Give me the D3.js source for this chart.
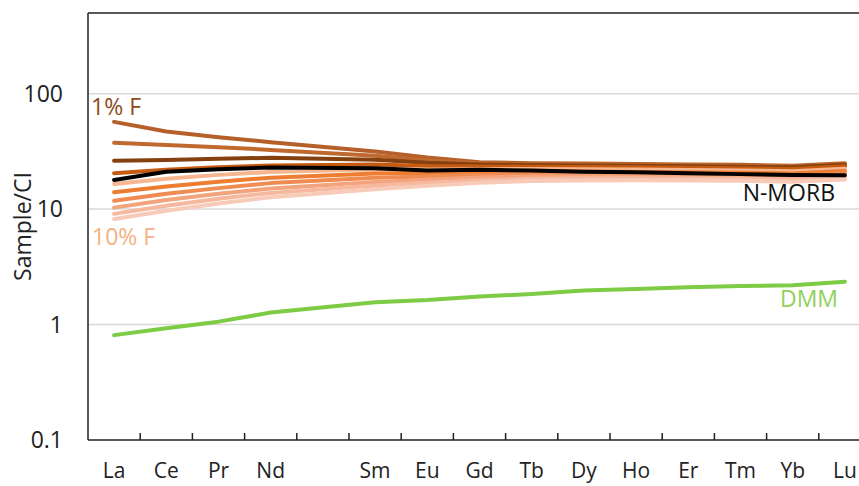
<!DOCTYPE html>
<html>
<head>
<meta charset="utf-8">
<script src="https://cdn.jsdelivr.net/npm/d3@7"></script>
<style>
  body { margin: 0; background: #fff; }
  svg { display: block; font-family: "Open Sans", sans-serif; }
</style>
</head>
<body>
<div id="chart"></div>
<script>
// REE names along the x axis (Pm has no value)
const elements = ["La", "Ce", "Pr", "Nd", "Pm", "Sm", "Eu", "Gd", "Tb", "Dy", "Ho", "Er", "Tm", "Yb", "Lu"];
const tickLabels = ["La", "Ce", "Pr", "Nd", "", "Sm", "Eu", "Gd", "Tb", "Dy", "Ho", "Er", "Tm", "Yb", "Lu"];
const yTicks = [0.1, 1, 10, 100];

// melt curves, 1% F to 10% F (chondrite normalised)
const melt1 = [57, 47, 42, 38, null, 31.5, 28, 25.5, 25, 24.8, 24.6, 24.4, 24.2, 23.8, 25];
const melt2 = [37.6, 36, 34.4, 32.6, null, 29, 26.5, 25, 24.6, 24.4, 24.2, 24, 23.8, 23.4, 24.6];
const melt3 = [26.3, 26.7, 27.3, 27.8, null, 26.8, 25.2, 24.3, 24.1, 23.9, 23.7, 23.5, 23.3, 23, 24.2];
const melt4 = [20.5, 21.9, 23, 23.9, null, 24.4, 23.6, 23.4, 23.3, 23.2, 23, 22.8, 22.6, 22.3, 23.5];
const melt5 = [16.5, 18.3, 19.8, 21, null, 22.2, 22, 22.2, 22.3, 22.2, 22, 21.8, 21.6, 21.3, 22.4];
const melt6 = [14, 15.7, 17.3, 18.7, null, 20.4, 20.6, 21, 21.2, 21.2, 21, 20.9, 20.7, 20.4, 21.4];
const melt7 = [11.8, 13.6, 15.2, 16.8, null, 18.7, 19.2, 19.8, 20.2, 20.2, 20.1, 20, 19.8, 19.5, 20.5];
const melt8 = [10.3, 12, 13.6, 15.1, null, 17.2, 18, 18.8, 19.2, 19.3, 19.3, 19.2, 19, 18.7, 19.6];
const melt9 = [9.1, 10.7, 12.3, 13.8, null, 16, 16.9, 17.8, 18.3, 18.5, 18.5, 18.4, 18.3, 18, 18.8];
const melt10 = [8.2, 9.7, 11.2, 12.7, null, 14.9, 15.9, 16.9, 17.5, 17.7, 17.8, 17.7, 17.6, 17.3, 18.1];
const nMorb = [17.9, 21.1, 22.2, 22.9, null, 22.6, 21.6, 21.9, 21.6, 21.1, 20.9, 20.5, 20.1, 19.8, 19.7];
const dmm = [0.81, 0.93, 1.06, 1.27, null, 1.56, 1.63, 1.75, 1.84, 1.97, 2.03, 2.1, 2.16, 2.19, 2.35];

const meltSeries = [melt1, melt2, melt3, melt4, melt5, melt6, melt7, melt8, melt9, melt10];
const meltColors = ["#b5602a", "#c0692f", "#85400f", "#c55a11", "#f6b690", "#ed7d31", "#f08c52", "#f3a47c", "#f6b9a0", "#f8cbb9"];

const container = d3.select("#chart");
const containerWidth = 859;
const containerHeight = 486;

const margin = { top: 13, left: 88 };
const width = 783; // plot runs past the right edge of the picture
const height = 427;

const svg = container
  .append("svg")
  .attr("width", containerWidth)
  .attr("height", containerHeight);

const g = svg.append("g").attr("transform", `translate(${margin.left},${margin.top})`);

const x = d3.scaleBand().domain(elements).range([0, width]);
const y = d3.scaleLog().domain([0.1, 500]).range([height, 0]);
const cx = (e) => x(e) + x.bandwidth() / 2;

// gridlines
g.selectAll("line.grid")
  .data(yTicks.slice(1))
  .join("line")
  .attr("x1", 0)
  .attr("x2", width)
  .attr("y1", (d) => y(d))
  .attr("y2", (d) => y(d))
  .attr("stroke", "#d9d9d9")
  .attr("stroke-width", 1.5);

// y labels
g.selectAll("text.ylab")
  .data(yTicks)
  .join("text")
  .attr("x", -25)
  .attr("y", (d) => y(d))
  .attr("dy", "0.35em")
  .attr("text-anchor", "end")
  .attr("font-size", 23)
  .attr("fill", "#222")
  .text((d) => d3.format("~g")(d));

// x axis, ticks between categories pointing up
const xAxis = g.append("g").attr("transform", `translate(0,${height})`);
xAxis
  .append("line")
  .attr("x1", 0)
  .attr("x2", width)
  .attr("stroke", "#222")
  .attr("stroke-width", 1.5);
xAxis
  .selectAll("line.tick")
  .data(elements.slice(1))
  .join("line")
  .attr("x1", (d) => x(d))
  .attr("x2", (d) => x(d))
  .attr("y1", 0)
  .attr("y2", -7)
  .attr("stroke", "#222")
  .attr("stroke-width", 1.5);
xAxis
  .selectAll("text")
  .data(elements)
  .join("text")
  .attr("x", (d) => cx(d))
  .attr("y", 38)
  .attr("text-anchor", "middle")
  .attr("font-size", 21)
  .attr("fill", "#222")
  .text((d, i) => tickLabels[i]);

// frame: left and top
g.append("line").attr("x1", 0).attr("x2", 0).attr("y1", 0).attr("y2", height)
  .attr("stroke", "#222").attr("stroke-width", 1.5);
g.append("line").attr("x1", 0).attr("x2", width).attr("y1", 0).attr("y2", 0)
  .attr("stroke", "#222").attr("stroke-width", 1.5);

// y title
svg
  .append("text")
  .attr("transform", `translate(31,${margin.top + height / 2}) rotate(-90)`)
  .attr("text-anchor", "middle")
  .attr("font-size", 23)
  .attr("fill", "#222")
  .text("Sample/CI");

const line = d3
  .line()
  .x((d) => cx(d.el))
  .y((d) => y(d.v));

const toPoints = (vals) =>
  vals.map((v, i) => ({ el: elements[i], v })).filter((d) => d.v != null);

// melt curves
meltSeries.forEach((vals, i) => {
  g.append("path")
    .datum(toPoints(vals))
    .attr("d", line)
    .attr("fill", "none")
    .attr("stroke", meltColors[i])
    .attr("stroke-width", 4)
    .attr("stroke-linecap", "round")
    .attr("stroke-linejoin", "round");
});

// N-MORB
g.append("path")
  .datum(toPoints(nMorb))
  .attr("d", line)
  .attr("fill", "none")
  .attr("stroke", "#000")
  .attr("stroke-width", 4)
  .attr("stroke-linecap", "round")
  .attr("stroke-linejoin", "round");

// DMM
g.append("path")
  .datum(toPoints(dmm))
  .attr("d", line)
  .attr("fill", "none")
  .attr("stroke", "#7ecb45")
  .attr("stroke-width", 4)
  .attr("stroke-linecap", "round")
  .attr("stroke-linejoin", "round");

// labels
function addLabel(text, xPos, yPos, color, anchor) {
  svg
    .append("text")
    .attr("x", xPos)
    .attr("y", yPos)
    .attr("text-anchor", anchor)
    .attr("font-size", 23)
    .attr("fill", color)
    .text(text);
}
addLabel("1% F", 91, 115, "#8f4a1c", "start");
addLabel("10% F", 92, 245, "#f4b183", "start");
addLabel("N-MORB", 835, 201, "#111", "end");
addLabel("DMM", 838, 307, "#8fd15a", "end");
</script>
</body>
</html>
